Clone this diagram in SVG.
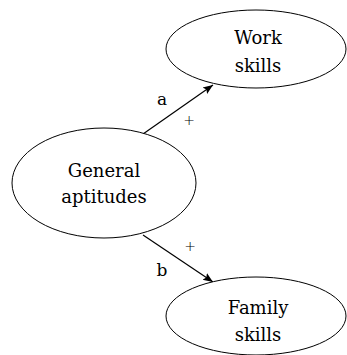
<svg xmlns="http://www.w3.org/2000/svg" width="347" height="355" viewBox="0 0 347 355">
<style>
.node{fill:#fff;stroke:#000;stroke-width:1}
.t{font-family:"DejaVu Serif","Liberation Serif",serif;font-size:18px;fill:#000;text-anchor:middle}
.l{font-family:"DejaVu Serif","Liberation Serif",serif;font-size:17px;fill:#000;text-anchor:middle}
.p{font-family:"DejaVu Sans","Liberation Sans",sans-serif;font-size:14px;font-weight:300;fill:#000;text-anchor:middle}
.c{stroke:#000;stroke-width:1.2;fill:none}
</style>
<defs>
<marker id="ah" viewBox="0 0 10 10" refX="10" refY="5" markerWidth="10" markerHeight="10" markerUnits="userSpaceOnUse" orient="auto">
<path d="M0,1 L10,5 L0,9 L2,5 Z" fill="#000"/>
</marker>
</defs>
<g id="connectors">
<line class="c" x1="143" y1="134" x2="213" y2="85" marker-end="url(#ah)"/>
<line class="c" x1="143" y1="235" x2="213" y2="282" marker-end="url(#ah)"/>
<text class="l" x="162" y="105">a</text>
<text class="p" x="189" y="125">+</text>
<text class="p" x="190" y="251">+</text>
<text class="l" x="162" y="276">b</text>
</g>
<g id="work">
<ellipse class="node" cx="256" cy="49" rx="90" ry="39"/>
<text class="t" x="258" y="44">Work</text>
<text class="t" x="258" y="72">skills</text>
</g>
<g id="general">
<ellipse class="node" cx="104" cy="183" rx="92" ry="55"/>
<text class="t" x="104" y="177">General</text>
<text class="t" x="104" y="203">aptitudes</text>
</g>
<g id="family">
<ellipse class="node" cx="256" cy="316" rx="90" ry="39"/>
<text class="t" x="258" y="314">Family</text>
<text class="t" x="258" y="341">skills</text>
</g>
</svg>
